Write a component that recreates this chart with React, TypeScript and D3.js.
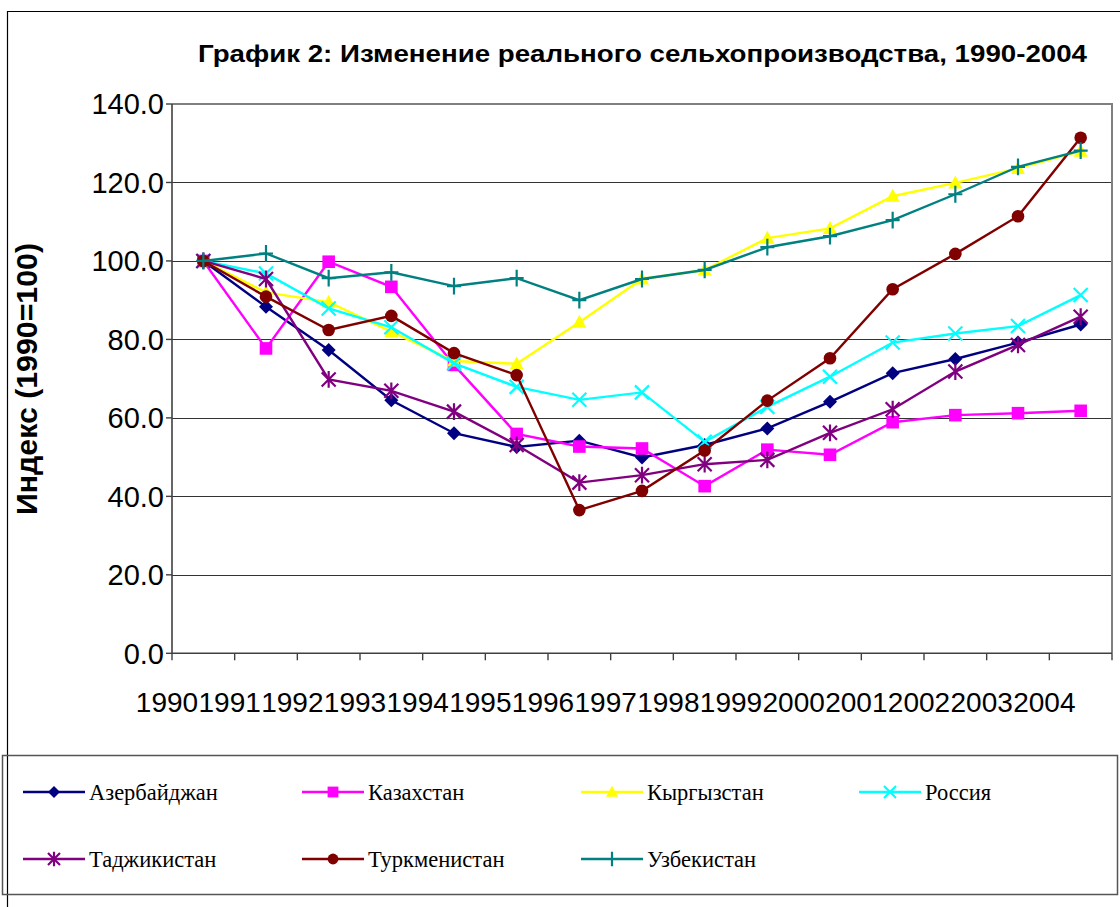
import React from 'react';
import * as d3 from 'd3';

const years = ['1990', '1991', '1992', '1993', '1994', '1995', '1996', '1997', '1998', '1999', '2000', '2001', '2002', '2003', '2004'];

const azerbaijan = [100, 88.3, 77.3, 64.5, 56.1, 52.6, 54.2, 49.9, 53.1, 57.3, 64.1, 71.4, 75.0, 79.2, 83.8];
const kazakhstan = [100, 77.7, 99.8, 93.4, 73.5, 55.9, 52.7, 52.2, 42.6, 51.9, 50.6, 58.9, 60.7, 61.2, 61.8];
const kyrgyzstan = [100, 92.0, 89.5, 82.0, 74.5, 73.8, 84.4, 95.4, 97.7, 105.8, 108.3, 116.5, 119.9, 123.6, 128.0];
const russia = [100, 96.8, 87.9, 83.1, 73.9, 67.9, 64.6, 66.5, 53.9, 62.8, 70.5, 79.2, 81.5, 83.4, 91.3];
const tajikistan = [100, 95.4, 69.8, 66.9, 61.6, 53.1, 43.5, 45.4, 48.2, 49.3, 56.2, 62.2, 71.8, 78.6, 85.8];
const turkmenistan = [100, 90.9, 82.4, 86.0, 76.5, 70.9, 36.5, 41.4, 51.7, 64.4, 75.2, 92.8, 101.8, 111.4, 131.4];
const uzbekistan = [100, 101.9, 95.6, 97.1, 93.6, 95.6, 90.0, 95.4, 97.7, 103.5, 106.3, 110.4, 117.0, 124.0, 128.1];

const seriesNames = ['Азербайджан', 'Казахстан', 'Кыргызстан', 'Россия', 'Таджикистан', 'Туркменистан', 'Узбекистан'];
const seriesValues = [azerbaijan, kazakhstan, kyrgyzstan, russia, tajikistan, turkmenistan, uzbekistan];
const seriesColors = ['#000080', '#FF00FF', '#FFFF00', '#00FFFF', '#800080', '#800000', '#008080'];
const seriesMarkers = ['diamond', 'square', 'triangle', 'x', 'asterisk', 'circle', 'plus'];

const yTicks = [0, 20, 40, 60, 80, 100, 120, 140];

const title = 'График 2: Изменение реального сельхопроизводства, 1990-2004';
const yTitle = 'Индекс (1990=100)';

function markerPath(type: string, s: number): string {
  const p = d3.path();
  switch (type) {
    case 'diamond':
      p.moveTo(0, -s); p.lineTo(s, 0); p.lineTo(0, s); p.lineTo(-s, 0); p.closePath();
      break;
    case 'square':
      p.rect(-s * 0.9, -s * 0.9, s * 1.8, s * 1.8);
      break;
    case 'triangle':
      p.moveTo(0, -s * 1.05); p.lineTo(s, s * 0.8); p.lineTo(-s, s * 0.8); p.closePath();
      break;
    case 'circle':
      p.arc(0, 0, s * 0.9, 0, Math.PI * 2);
      break;
    case 'x':
      p.moveTo(-s, -s); p.lineTo(s, s); p.moveTo(s, -s); p.lineTo(-s, s);
      break;
    case 'asterisk':
      p.moveTo(-s, -s); p.lineTo(s, s); p.moveTo(s, -s); p.lineTo(-s, s);
      p.moveTo(0, -s * 1.2); p.lineTo(0, s * 1.2);
      break;
    case 'plus':
      p.moveTo(-s, 0); p.lineTo(s, 0); p.moveTo(0, -s * 1.2); p.lineTo(0, s * 1.2);
      break;
  }
  return p.toString();
}

const strokeMarkers = new Set(['x', 'asterisk', 'plus']);

function Marker({ type, color, x, y, s }: { type: string; color: string; x: number; y: number; s: number }) {
  const stroke = strokeMarkers.has(type);
  return (
    <path
      d={markerPath(type, s)}
      transform={`translate(${x},${y})`}
      fill={stroke ? 'none' : color}
      stroke={stroke ? color : 'none'}
      strokeWidth={stroke ? 2.2 : 0}
    />
  );
}

export default function App() {
  const W = 1120, H = 907;
  const left = 172, right = 1112, top = 104, bottom = 653.3;
  const x = d3.scaleBand<string>().domain(years).range([left, right]).padding(0);
  const y = d3.scaleLinear().domain([0, 140]).range([bottom, top]);
  const fmt = d3.format('.1f');
  const line = d3.line<number>()
    .x((_, i) => (x(years[i]) as number) + x.bandwidth() / 2)
    .y((d) => y(d));

  const legendCols = [89, 368, 647, 925];
  const legendRows = [792, 859];

  return (
    <svg width={W} height={H} style={{ position: 'absolute', left: 0, top: 0, background: '#fff' }}>
      <rect x={0} y={0} width={W} height={H} fill="#fff" />
      {/* outer frame */}
      <path d={`M7.5,${H} V11.5 H${W}`} fill="none" stroke="#000" strokeWidth={1.2} />

      {/* title */}
      <text x={642.5} y={62} textAnchor="middle" fontFamily="'Liberation Sans', Arial, sans-serif" fontWeight="bold" fontSize={24} textLength={889} lengthAdjust="spacingAndGlyphs">
        {title}
      </text>

      {/* gridlines */}
      {yTicks.filter((t) => t > 0 && t < 140).map((t) => (
        <line key={t} x1={left} x2={right} y1={Math.round(y(t)) + 0.5} y2={Math.round(y(t)) + 0.5} stroke="#333" strokeWidth={1.2} />
      ))}
      {/* plot border top/right */}
      <path d={`M${left},${y(140)} H${right} V${bottom}`} fill="none" stroke="#808080" strokeWidth={2} />
      {/* axes */}
      <line x1={left} x2={left} y1={top} y2={bottom} stroke="#404040" strokeWidth={1.6} />
      <line x1={left} x2={right} y1={bottom} y2={bottom} stroke="#404040" strokeWidth={1.6} />

      {/* y ticks */}
      {yTicks.map((t) => (
        <g key={t}>
          <line x1={left - 6} x2={left} y1={y(t)} y2={y(t)} stroke="#404040" strokeWidth={1.4} />
          <text x={164} y={y(t)} dy="0.36em" textAnchor="end" fontFamily="'Liberation Sans', Arial, sans-serif" fontSize={29}>
            {fmt(t)}
          </text>
        </g>
      ))}

      {/* x ticks */}
      {d3.range(years.length + 1).map((i) => {
        const xx = left + i * x.bandwidth();
        return <line key={i} x1={xx} x2={xx} y1={bottom} y2={bottom + 7} stroke="#404040" strokeWidth={1.4} />;
      })}
      {years.map((yr) => (
        <text key={yr} x={(x(yr) as number) - 5} y={712} textAnchor="middle" fontFamily="'Liberation Sans', Arial, sans-serif" fontSize={28}>
          {yr}
        </text>
      ))}

      {/* y title */}
      <text transform={`translate(37,379) rotate(-90)`} textAnchor="middle" fontFamily="'Liberation Sans', Arial, sans-serif" fontWeight="bold" fontSize={29} textLength={272} lengthAdjust="spacingAndGlyphs">
        {yTitle}
      </text>

      {/* series */}
      {seriesValues.map((vals, si) => (
        <g key={seriesNames[si]}>
          <path d={line(vals) as string} fill="none" stroke={seriesColors[si]} strokeWidth={2.4} />
          {vals.map((v, i) => (
            <Marker key={i} type={seriesMarkers[si]} color={seriesColors[si]} x={(x(years[i]) as number) + x.bandwidth() / 2} y={y(v)} s={7} />
          ))}
        </g>
      ))}

      {/* legend */}
      <rect x={2.5} y={755.5} width={1115} height={139} fill="none" stroke="#555" strokeWidth={1.5} />
      {seriesNames.map((name, si) => {
        const tx = legendCols[si % 4];
        const ty = legendRows[Math.floor(si / 4)];
        return (
          <g key={name}>
            <line x1={tx - 66} x2={tx - 4} y1={ty} y2={ty} stroke={seriesColors[si]} strokeWidth={2.6} />
            <Marker type={seriesMarkers[si]} color={seriesColors[si]} x={tx - 35} y={ty} s={6} />
            <text x={tx} y={ty} dy="0.35em" fontFamily="'Liberation Serif', 'Times New Roman', serif" fontSize={22.5}>
              {name}
            </text>
          </g>
        );
      })}
    </svg>
  );
}
